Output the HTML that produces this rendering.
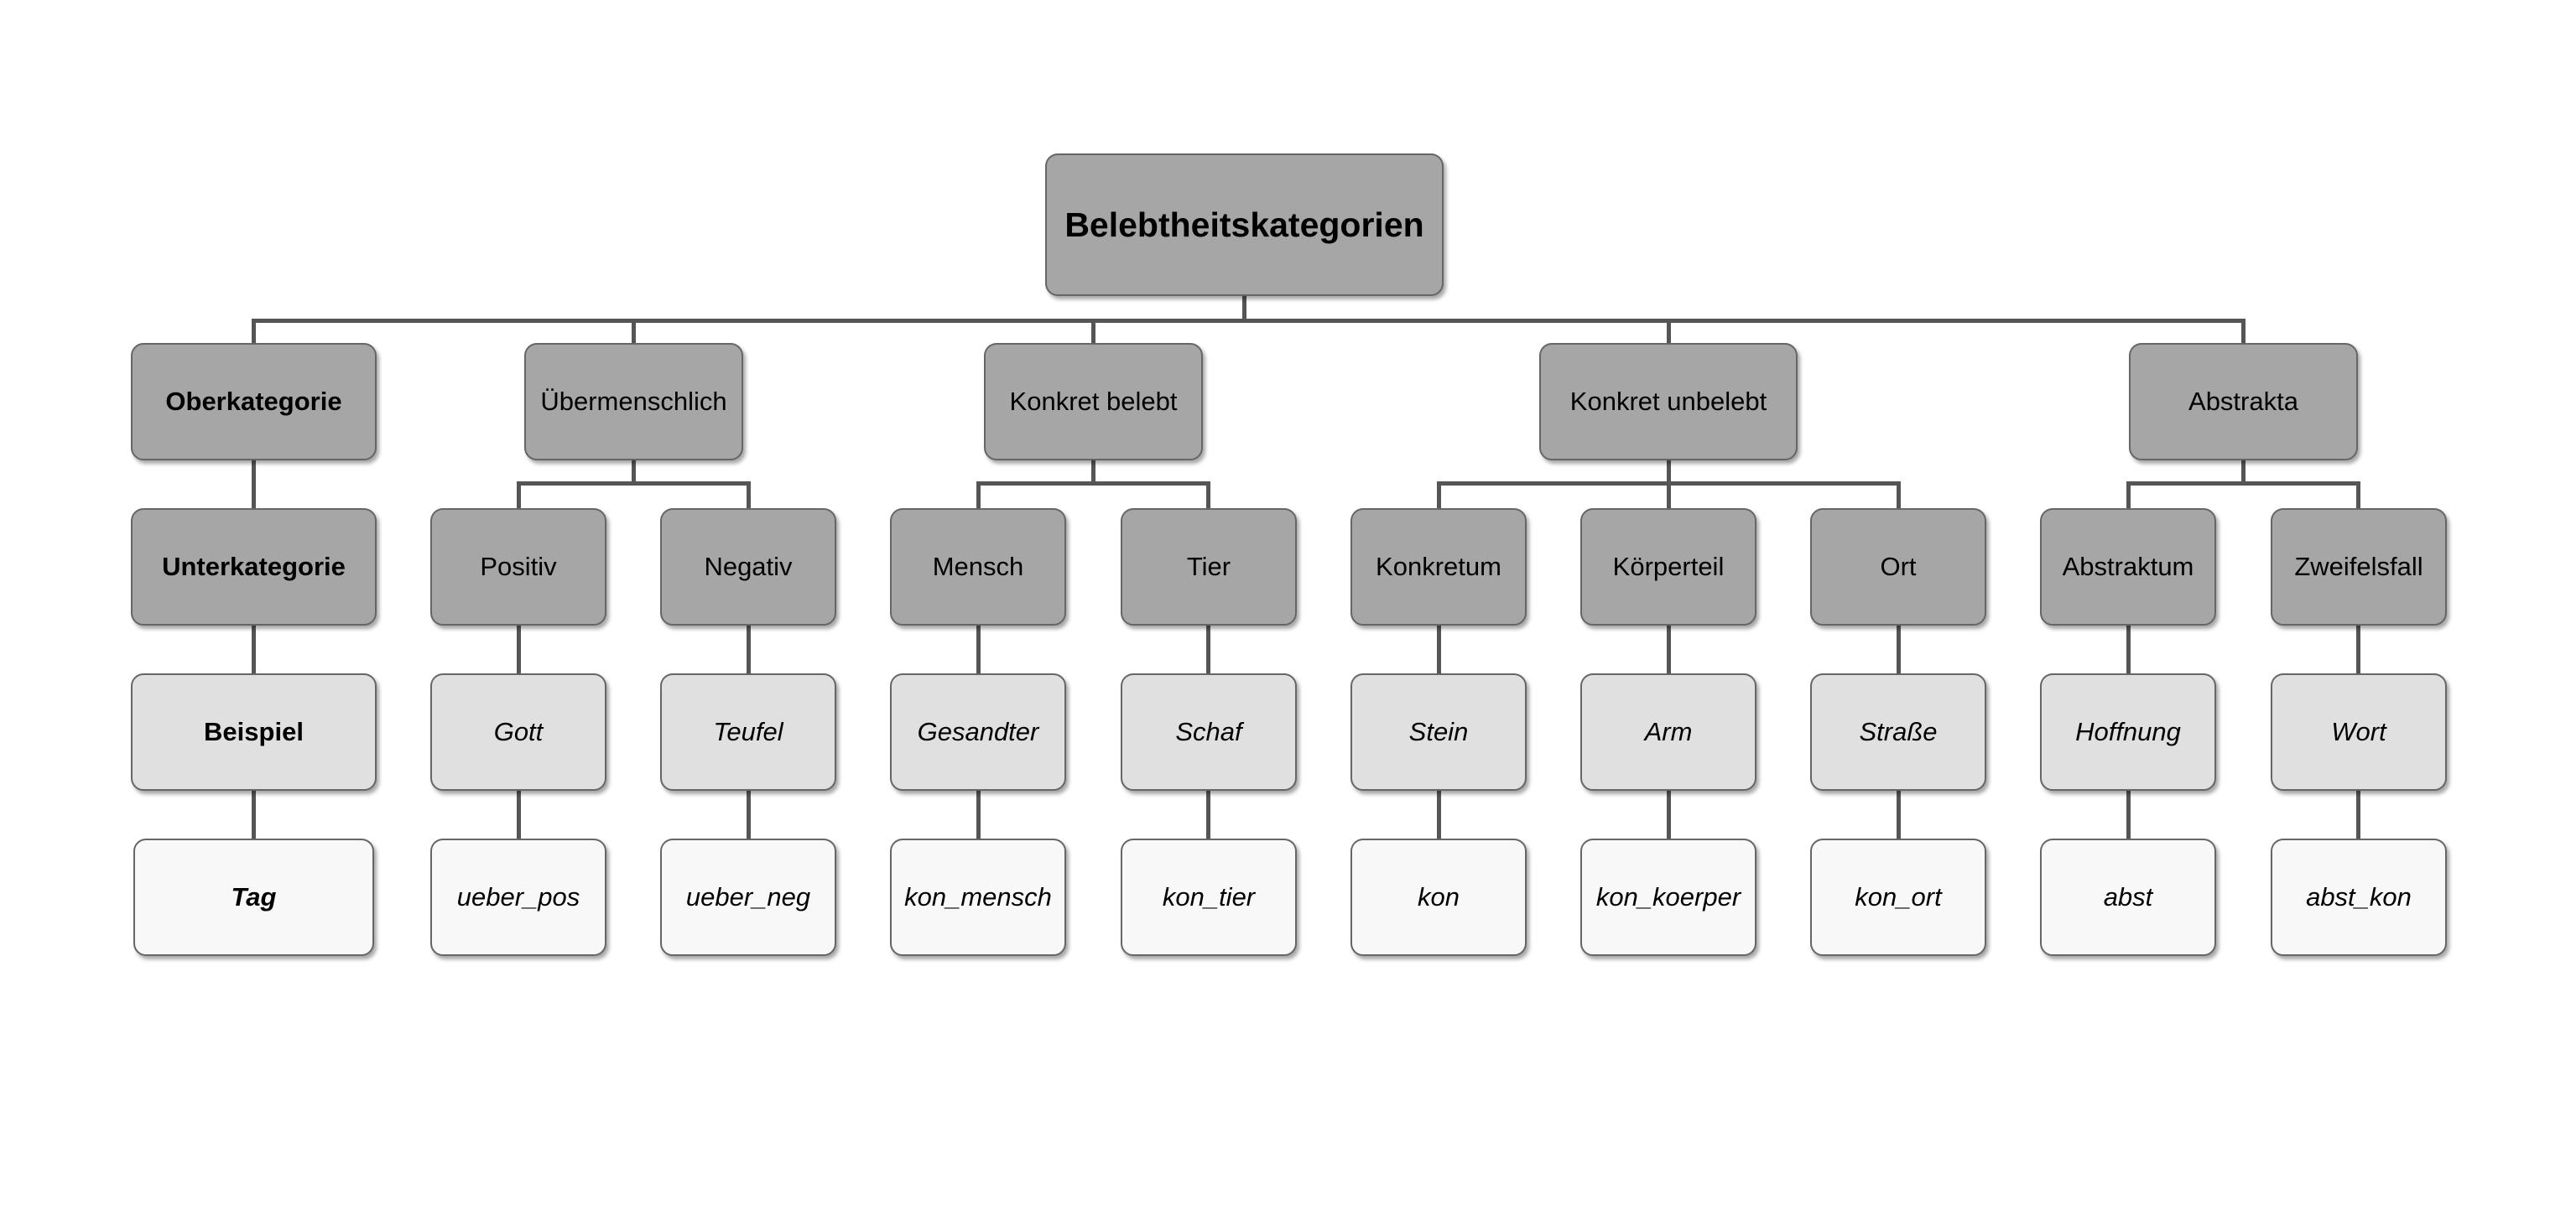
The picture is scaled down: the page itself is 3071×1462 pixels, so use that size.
<!DOCTYPE html>
<html><head><meta charset="utf-8"><style>
html,body{margin:0;padding:0;background:#fff;}
body{width:3071px;height:1462px;position:relative;overflow:hidden;font-family:"Liberation Sans",sans-serif;}
.b{position:absolute;box-sizing:border-box;border:2px solid #666;border-radius:15px;display:flex;align-items:center;justify-content:center;color:#000;font-size:31px;box-shadow:3px 4px 5px rgba(0,0,0,.35);letter-spacing:0px;}
.d{background:#a6a6a6;}
.l{background:#e0e0e0;font-style:italic;}
.w{background:#f8f8f8;font-style:italic;}
.h{position:absolute;background:#555;height:5px;}
.v{position:absolute;background:#555;width:5px;}
</style></head><body>
<div class="v" style="left:1481px;top:352px;height:32px"></div>
<div class="h" style="left:300px;top:380px;width:2377px"></div>
<div class="v" style="left:300px;top:380px;height:30px"></div>
<div class="v" style="left:753px;top:380px;height:30px"></div>
<div class="v" style="left:1301px;top:380px;height:30px"></div>
<div class="v" style="left:1987px;top:380px;height:30px"></div>
<div class="v" style="left:2672px;top:380px;height:30px"></div>

<div class="v" style="left:300px;top:549px;height:58px"></div>
<div class="v" style="left:753px;top:549px;height:30px"></div>
<div class="v" style="left:1301px;top:549px;height:30px"></div>
<div class="v" style="left:1987px;top:549px;height:30px"></div>
<div class="v" style="left:2672px;top:549px;height:30px"></div>

<div class="h" style="left:616px;top:574px;width:279px"></div>
<div class="h" style="left:1164px;top:574px;width:279px"></div>
<div class="h" style="left:1713px;top:574px;width:553px"></div>
<div class="h" style="left:2535px;top:574px;width:279px"></div>

<div class="v" style="left:616px;top:574px;height:33px"></div>
<div class="v" style="left:890px;top:574px;height:33px"></div>
<div class="v" style="left:1164px;top:574px;height:33px"></div>
<div class="v" style="left:1438px;top:574px;height:33px"></div>
<div class="v" style="left:1713px;top:574px;height:33px"></div>
<div class="v" style="left:1987px;top:574px;height:33px"></div>
<div class="v" style="left:2261px;top:574px;height:33px"></div>
<div class="v" style="left:2535px;top:574px;height:33px"></div>
<div class="v" style="left:2809px;top:574px;height:33px"></div>

<div class="v" style="left:300px;top:746px;height:58px"></div>
<div class="v" style="left:300px;top:943px;height:58px"></div>
<div class="v" style="left:616px;top:746px;height:255px"></div>
<div class="v" style="left:890px;top:746px;height:255px"></div>
<div class="v" style="left:1164px;top:746px;height:255px"></div>
<div class="v" style="left:1438px;top:746px;height:255px"></div>
<div class="v" style="left:1713px;top:746px;height:255px"></div>
<div class="v" style="left:1987px;top:746px;height:255px"></div>
<div class="v" style="left:2261px;top:746px;height:255px"></div>
<div class="v" style="left:2535px;top:746px;height:255px"></div>
<div class="v" style="left:2809px;top:746px;height:255px"></div>

<div class="b d" style="left:1246px;top:183px;width:475px;height:170px;font-size:41px;font-weight:bold;">Belebtheitskategorien</div>

<div class="b d" style="left:156px;top:409px;width:293px;height:140px;font-weight:bold;">Oberkategorie</div>
<div class="b d" style="left:625px;top:409px;width:261px;height:140px;">Übermenschlich</div>
<div class="b d" style="left:1173px;top:409px;width:261px;height:140px;">Konkret belebt</div>
<div class="b d" style="left:1835px;top:409px;width:308px;height:140px;">Konkret unbelebt</div>
<div class="b d" style="left:2538px;top:409px;width:273px;height:140px;">Abstrakta</div>

<div class="b d" style="left:156px;top:606px;width:293px;height:140px;font-weight:bold;">Unterkategorie</div>
<div class="b d" style="left:513px;top:606px;width:210px;height:140px;">Positiv</div>
<div class="b d" style="left:787px;top:606px;width:210px;height:140px;">Negativ</div>
<div class="b d" style="left:1061px;top:606px;width:210px;height:140px;">Mensch</div>
<div class="b d" style="left:1336px;top:606px;width:210px;height:140px;">Tier</div>
<div class="b d" style="left:1610px;top:606px;width:210px;height:140px;">Konkretum</div>
<div class="b d" style="left:1884px;top:606px;width:210px;height:140px;">Körperteil</div>
<div class="b d" style="left:2158px;top:606px;width:210px;height:140px;">Ort</div>
<div class="b d" style="left:2432px;top:606px;width:210px;height:140px;">Abstraktum</div>
<div class="b d" style="left:2707px;top:606px;width:210px;height:140px;">Zweifelsfall</div>

<div class="b l" style="left:156px;top:803px;width:293px;height:140px;font-weight:bold;font-style:normal;">Beispiel</div>
<div class="b l" style="left:513px;top:803px;width:210px;height:140px;">Gott</div>
<div class="b l" style="left:787px;top:803px;width:210px;height:140px;">Teufel</div>
<div class="b l" style="left:1061px;top:803px;width:210px;height:140px;">Gesandter</div>
<div class="b l" style="left:1336px;top:803px;width:210px;height:140px;">Schaf</div>
<div class="b l" style="left:1610px;top:803px;width:210px;height:140px;">Stein</div>
<div class="b l" style="left:1884px;top:803px;width:210px;height:140px;">Arm</div>
<div class="b l" style="left:2158px;top:803px;width:210px;height:140px;">Straße</div>
<div class="b l" style="left:2432px;top:803px;width:210px;height:140px;">Hoffnung</div>
<div class="b l" style="left:2707px;top:803px;width:210px;height:140px;">Wort</div>

<div class="b w" style="left:159px;top:1000px;width:287px;height:140px;font-weight:bold;">Tag</div>
<div class="b w" style="left:513px;top:1000px;width:210px;height:140px;">ueber_pos</div>
<div class="b w" style="left:787px;top:1000px;width:210px;height:140px;">ueber_neg</div>
<div class="b w" style="left:1061px;top:1000px;width:210px;height:140px;">kon_mensch</div>
<div class="b w" style="left:1336px;top:1000px;width:210px;height:140px;">kon_tier</div>
<div class="b w" style="left:1610px;top:1000px;width:210px;height:140px;">kon</div>
<div class="b w" style="left:1884px;top:1000px;width:210px;height:140px;">kon_koerper</div>
<div class="b w" style="left:2158px;top:1000px;width:210px;height:140px;">kon_ort</div>
<div class="b w" style="left:2432px;top:1000px;width:210px;height:140px;">abst</div>
<div class="b w" style="left:2707px;top:1000px;width:210px;height:140px;">abst_kon</div>
</body></html>
